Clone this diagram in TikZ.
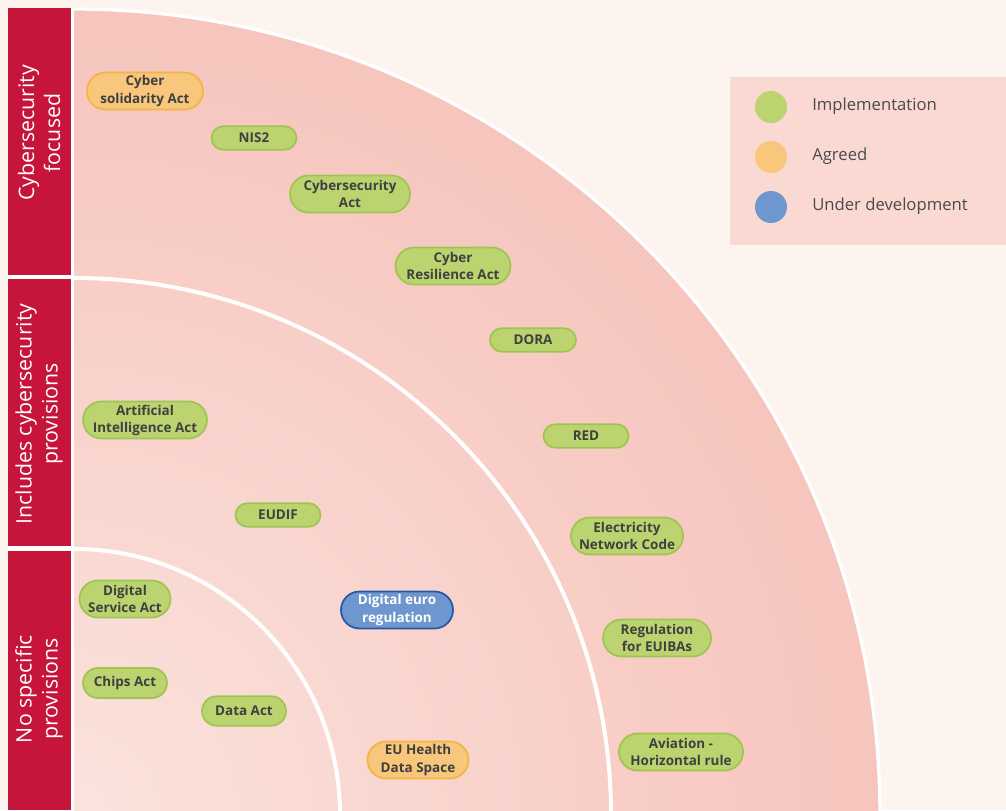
\documentclass[tikz,border=0pt]{standalone}
\usepackage{fontspec}
\setmainfont{Open Sans}
\IfFontExistsTF{Open Sans SemiBold}{\newfontfamily\semifont{Open Sans SemiBold}}{\newcommand\semifont{\bfseries}}
\usetikzlibrary{shapes.misc}

\definecolor{bgcream}{HTML}{FDF3EF}
\definecolor{barred}{HTML}{C6143A}
\definecolor{legendbg}{HTML}{FBD9D3}
\definecolor{implgreen}{HTML}{BBD46F}
\definecolor{implborder}{HTML}{A0C452}
\definecolor{agreedorange}{HTML}{F8C77B}
\definecolor{agreedborder}{HTML}{F2B443}
\definecolor{devblue}{HTML}{6F97CF}
\definecolor{devborder}{HTML}{2458A5}
\definecolor{textgray}{HTML}{404040}
\definecolor{legendgray}{HTML}{4A4A4A}
\definecolor{fadeA}{HTML}{FBE3DD}
\definecolor{fadeB}{HTML}{F7CAC3}
\definecolor{fadeC}{HTML}{F4BBB2}
\definecolor{fadeD}{HTML}{F2B2A8}

\pgfdeclareradialshading{ringfade}{\pgfpointorigin}{color(0bp)=(fadeA); color(20bp)=(fadeB); color(36bp)=(fadeC); color(50bp)=(fadeD)}

\tikzset{
  pill/.style={rounded rectangle, line width=1.3pt, align=center, inner sep=0pt, text=textgray, font=\semifont\fontsize{10.1}{12.8}\selectfont},
  implpill/.style={pill, fill=implgreen, draw=implborder},
  agreedpill/.style={pill, fill=agreedorange, draw=agreedborder},
  devpill/.style={pill, fill=devblue, draw=devborder, text=white},
  twoline/.style={minimum height=27.75pt},
  oneline/.style={minimum height=17.5pt},
  sidetext/.style={rotate=90, align=center, text=white, inner sep=0pt, font=\fontsize{16}{19.5}\selectfont},
  legenddot/.style={circle, inner sep=0pt, minimum size=24pt},
  legendtext/.style={anchor=west, inner sep=0pt, text=legendgray, font=\fontsize{12.5}{15}\selectfont}
}

\begin{document}
\begin{tikzpicture}[x=0.75pt,y=0.75pt,yscale=-1,xscale=1]
\useasboundingbox (0,0) rectangle (1006,810);

%Shape: Rectangle [background]
\fill [bgcream] (0,0) rectangle (1006,810);
%Shape: Rectangle [white strip behind the bars]
\fill [white] (8,8) rectangle (74,810);
%Shape: Rectangle [bars]
\fill [barred] (8,8) rectangle (71,275);
\fill [barred] (8,279) rectangle (71,546);
\fill [barred] (8,551) rectangle (71,810);

%Shape: Quarter circles
\begin{scope}
\clip (74,0) rectangle (1006,810);
\shade [shading=ringfade] (74,815) circle [radius=806];
\draw [white, line width=2.5pt] (74,815) circle [radius=806];
\draw [white, line width=3pt] (74,815) circle [radius=537];
\draw [white, line width=3pt] (74,815) circle [radius=266];
\end{scope}

%Shape: Rectangle [legend]
\fill [legendbg] (730,77) rectangle (1006,245);
\node [legenddot, fill=implgreen] (dotimpl) at (771,107) {};
\node [legenddot, fill=agreedorange] (dotagreed) at (771,157) {};
\node [legenddot, fill=devblue] (dotdev) at (771,207) {};
% Text Node
\draw (812,106) node [legendtext] (lgimpl) {Implementation};
% Text Node
\draw (812,156) node [legendtext] (lgagreed) {Agreed};
% Text Node
\draw (812,206) node [legendtext] (lgdev) {Under development};

% Text Node
\draw (39,133) node [sidetext] (sidecyb) {Cybersecurity\\focused};
% Text Node
\draw (39,414) node [sidetext] (sideincl) {Includes cybersecurity\\provisions};
% Text Node
\draw (39,689) node [sidetext] (sideno) {No specific\\provisions};

%Outer band
\draw (145,91) node [agreedpill, twoline, minimum width=87pt] (cybsol) {Cyber\\solidarity Act};
\draw (254,138) node [implpill, oneline, minimum width=63.75pt] (nis) {NIS2};
\draw (350,194) node [implpill, twoline, minimum width=90pt] (cybact) {Cybersecurity\\Act};
\draw (453,266) node [implpill, twoline, minimum width=86.25pt] (cra) {Cyber\\Resilience Act};
\draw (533,340) node [implpill, oneline, minimum width=64.5pt] (dora) {DORA};
\draw (586,436) node [implpill, oneline, minimum width=63.75pt] (red) {RED};
\draw (627,536) node [implpill, twoline, minimum width=84pt] (enc) {Electricity\\Network Code};
\draw (657,638) node [implpill, twoline, minimum width=81pt] (euibas) {Regulation\\for EUIBAs};
\draw (681,752) node [implpill, twoline, minimum width=93pt] (aviation) {Aviation -\\Horizontal rule};

%Middle band
\draw (145,420) node [implpill, twoline, minimum width=93pt] (aiact) {Artificial\\Intelligence Act};
\draw (278,515) node [implpill, oneline, minimum width=63.75pt] (eudif) {EUDIF};
\draw (397,610) node [devpill, twoline, minimum width=84pt] (deuro) {Digital euro\\regulation};
\draw (418,760) node [agreedpill, twoline, minimum width=75.75pt] (ehds) {EU Health\\Data Space};

%Inner band
\draw (125,599) node [implpill, twoline, minimum width=68.25pt] (dsa) {Digital\\Service Act};
\draw (125,683) node [implpill, minimum height=22.5pt, minimum width=63pt] (chips) {Chips Act};
\draw (244,711) node [implpill, minimum height=22pt, minimum width=63pt] (dataact) {Data Act};

\end{tikzpicture}
\end{document}
